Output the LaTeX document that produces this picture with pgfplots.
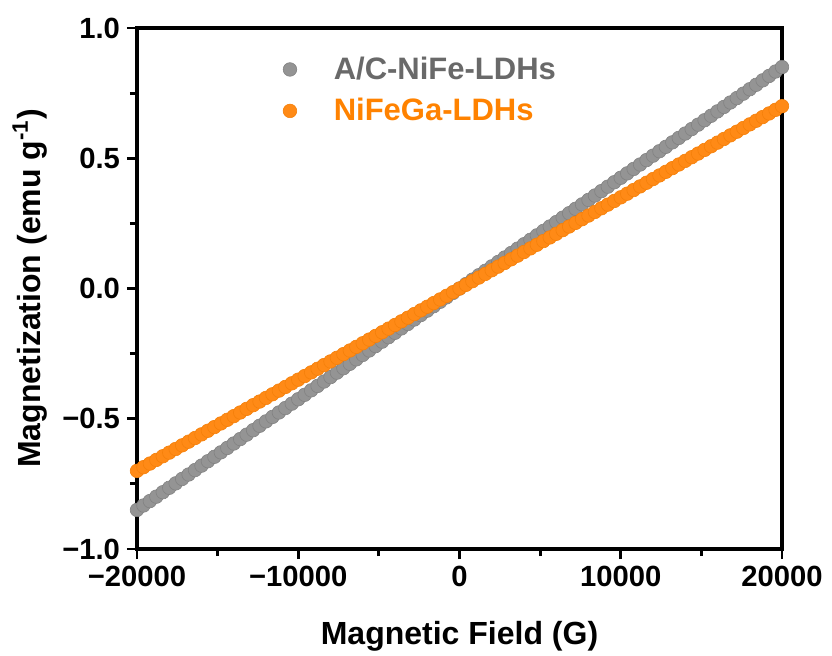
\documentclass[border=0pt]{standalone}
\usepackage{pgfplots}
\pgfplotsset{compat=1.18}
\usepackage{pgfplotstable}
\usepackage{fontspec}
\setmainfont{Liberation Sans}
\usetikzlibrary{calc}
\definecolor{gline}{RGB}{148,148,148}
\definecolor{gedge}{RGB}{130,130,130}
\definecolor{oline}{RGB}{255,138,22}
\definecolor{oedge}{RGB}{245,128,10}
\definecolor{glegend}{RGB}{190,190,190}
\definecolor{olegend}{RGB}{245,162,90}
\definecolor{gtext}{RGB}{105,105,105}
\definecolor{otext}{RGB}{255,130,0}
\pgfplotstableread{
x g o
-20000 -0.850 -0.700
-19600 -0.833 -0.686
-19200 -0.816 -0.672
-18800 -0.799 -0.658
-18400 -0.782 -0.644
-18000 -0.765 -0.630
-17600 -0.748 -0.616
-17200 -0.731 -0.602
-16800 -0.714 -0.588
-16400 -0.697 -0.574
-16000 -0.680 -0.560
-15600 -0.663 -0.546
-15200 -0.646 -0.532
-14800 -0.629 -0.518
-14400 -0.612 -0.504
-14000 -0.595 -0.490
-13600 -0.578 -0.476
-13200 -0.561 -0.462
-12800 -0.544 -0.448
-12400 -0.527 -0.434
-12000 -0.510 -0.420
-11600 -0.493 -0.406
-11200 -0.476 -0.392
-10800 -0.459 -0.378
-10400 -0.442 -0.364
-10000 -0.425 -0.350
-9600 -0.408 -0.336
-9200 -0.391 -0.322
-8800 -0.374 -0.308
-8400 -0.357 -0.294
-8000 -0.340 -0.280
-7600 -0.323 -0.266
-7200 -0.306 -0.252
-6800 -0.289 -0.238
-6400 -0.272 -0.224
-6000 -0.255 -0.210
-5600 -0.238 -0.196
-5200 -0.221 -0.182
-4800 -0.204 -0.168
-4400 -0.187 -0.154
-4000 -0.170 -0.140
-3600 -0.153 -0.126
-3200 -0.136 -0.112
-2800 -0.119 -0.098
-2400 -0.102 -0.084
-2000 -0.085 -0.070
-1600 -0.068 -0.056
-1200 -0.051 -0.042
-800 -0.034 -0.028
-400 -0.017 -0.014
0 0.000 0.000
400 0.017 0.014
800 0.034 0.028
1200 0.051 0.042
1600 0.068 0.056
2000 0.085 0.070
2400 0.102 0.084
2800 0.119 0.098
3200 0.136 0.112
3600 0.153 0.126
4000 0.170 0.140
4400 0.187 0.154
4800 0.204 0.168
5200 0.221 0.182
5600 0.238 0.196
6000 0.255 0.210
6400 0.272 0.224
6800 0.289 0.238
7200 0.306 0.252
7600 0.323 0.266
8000 0.340 0.280
8400 0.357 0.294
8800 0.374 0.308
9200 0.391 0.322
9600 0.408 0.336
10000 0.425 0.350
10400 0.442 0.364
10800 0.459 0.378
11200 0.476 0.392
11600 0.493 0.406
12000 0.510 0.420
12400 0.527 0.434
12800 0.544 0.448
13200 0.561 0.462
13600 0.578 0.476
14000 0.595 0.490
14400 0.612 0.504
14800 0.629 0.518
15200 0.646 0.532
15600 0.663 0.546
16000 0.680 0.560
16400 0.697 0.574
16800 0.714 0.588
17200 0.731 0.602
17600 0.748 0.616
18000 0.765 0.630
18400 0.782 0.644
18800 0.799 0.658
19200 0.816 0.672
19600 0.833 0.686
20000 0.850 0.700
}\datatable
\begin{document}
\begin{tikzpicture}
\begin{axis}[
  scale only axis,
  width=322.5pt, height=260.5pt,
  xmin=-20000, xmax=20000, ymin=-1, ymax=1,
  scaled ticks=false,
  xtick={-20000,-10000,0,10000,20000},
  xticklabels={−20000,−10000,0,10000,20000},
  ytick={-1,-0.5,0,0.5,1},
  yticklabels={−1.0,−0.5,0.0,0.5,1.0},
  minor tick num=1,
  tick pos=left,
  tick align=outside,
  major tick length=5pt,
  minor tick length=3.5pt,
  every tick/.style={black, line width=1.4pt},
  axis line style={line width=1.6pt},
  ticklabel style={font=\fontsize{14.6}{17}\selectfont\bfseries},
  /pgf/number format/assume math mode=true,
  xlabel={Magnetic Field (G)},
  ylabel={Magnetization (emu g\textsuperscript{-1})},
  label style={font=\fontsize{16}{19}\selectfont\bfseries},
  xlabel style={at={(axis description cs:0.5,-0.168)}, anchor=center},
  ylabel style={at={(axis description cs:-0.166,0.5)}, anchor=center},
  legend style={at={(axis description cs:0.226,0.961)}, anchor=north west,
    draw=none, fill=none, font=\fontsize{15.5}{18}\selectfont\bfseries,
    row sep=4pt, inner xsep=0pt},
  legend cell align=left,
  clip=false,
]
\coordinate (bl) at (rel axis cs:0,0);
\addplot[only marks, mark=*, mark size=3.4pt, mark options={fill=gline, draw=gedge, line width=0.3pt}] table[x=x, y=g] {\datatable};
\addplot[only marks, mark=*, mark size=3.4pt, mark options={fill=oline, draw=oedge, line width=0.3pt}] table[x=x, y=o] {\datatable};
\legend{}
\addlegendimage{legend image code/.code={\fill[glegend] (0,0) circle (2.3pt);}}
\addlegendentry{\hspace{16.5pt}\textcolor{gtext}{A/C-NiFe-LDHs}}
\addlegendimage{legend image code/.code={\fill[olegend] (0,0) circle (2.3pt);}}
\addlegendentry{\hspace{16.5pt}\textcolor{otext}{NiFeGa-LDHs}}
\end{axis}
\pgfresetboundingbox
\path ($(bl)+(-68.5pt,-53pt)$) rectangle ($(bl)+(347.5pt,274.5pt)$);
\end{tikzpicture}
\end{document}
